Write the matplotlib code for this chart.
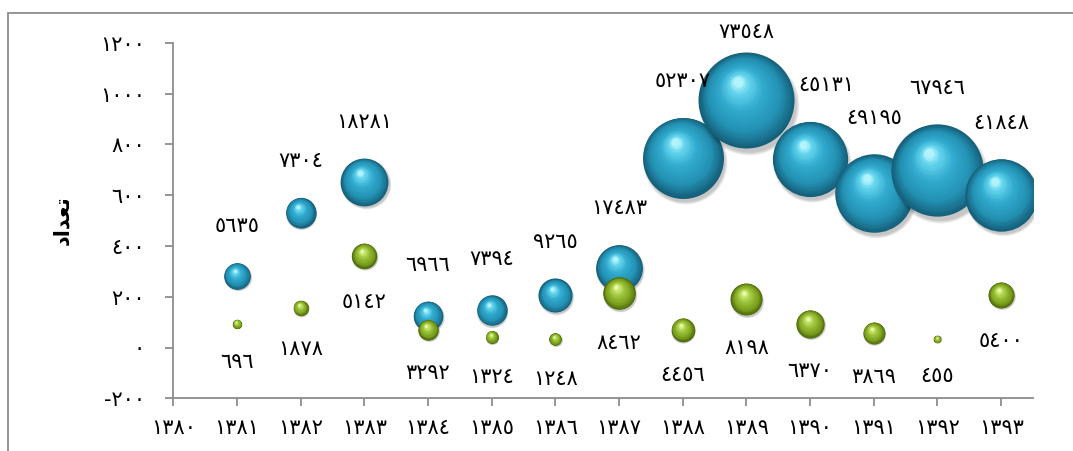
import numpy as np
import matplotlib
matplotlib.use("Agg")
import matplotlib.pyplot as plt
from matplotlib import transforms
from matplotlib.colors import LinearSegmentedColormap
from matplotlib.patches import Rectangle

# data
years = [1381, 1382, 1383, 1384, 1385, 1386, 1387, 1388, 1389, 1390, 1391, 1392, 1393]
blue_y = [282, 531, 652, 125, 146, 205, 313, 748, 975, 743, 608, 697, 601]
blue_size = [5635, 7304, 18281, 6966, 7394, 9265, 17483, 52307, 73548, 45131, 49195, 67946, 41848]
green_y = [93, 156, 361, 70, 41, 33, 214, 70, 191, 93, 57, 33, 207]
green_size = [696, 1878, 5142, 3292, 1324, 1248, 8462, 4456, 8198, 6370, 3869, 455, 5400]
x_ticks = list(range(1380, 1394))
y_ticks = list(range(-200, 1201, 200))
y_title = "\uFEA9\uFE8D\uFEAA\uFECC\uFE97"  # تعداد (shaped, visual order)

ar = str.maketrans("0123456789", "٠١٢٣٤٥٦٧٨٩")
def fa(n):
    return str(n).translate(ar)

W, H, DPI = 1073, 451, 100
fig = plt.figure(figsize=(W / DPI, H / DPI), dpi=DPI)
fig.patch.set_facecolor("white")
ax = fig.add_axes([173.3 / W, 1 - 398.3 / H, (1033 - 173.3) / W, (398.3 - 42.7) / H])
ax.set_xlim(1380, 1393.5)
ax.set_ylim(-200, 1200)

# chart border (runs off the right and bottom edges)
fig.patches.append(Rectangle((8 / W, -0.2), 1.2, 0.2 + 1 - 13 / H, transform=fig.transFigure,
                             fill=False, ec="#8c8c8c", lw=1.3))

blue_cm = LinearSegmentedColormap.from_list("b", [(0, "#15607a"), (0.25, "#2390b2"), (0.6, "#31abcf"),
                                                  (0.88, "#66d6ef"), (1, "#b2f3fc")])
green_cm = LinearSegmentedColormap.from_list("g", [(0, "#4d6a0c"), (0.25, "#7c9f1e"), (0.6, "#9ac238"),
                                                   (0.88, "#c6e56c"), (1, "#eaf9b2")])

max_d_pt = 96 * 72 / DPI
max_v = max(blue_size)

def radius(v):
    return max_d_pt * np.sqrt(v / max_v) / 2

def sphere(x, y, r, cm, z):
    # soft shadow
    for k in range(4):
        tr = transforms.offset_copy(ax.transData, fig=fig, x=0.05 * r, y=-0.1 * r, units="points")
        ax.scatter([x], [y], s=(2 * r * (1.04 - 0.02 * k)) ** 2, color="k", alpha=0.06, lw=0,
                   zorder=z, transform=tr)
    n = 30
    for i in range(n):
        t = i / (n - 1)
        rr = r * (1 - 0.9 * t)
        tr = transforms.offset_copy(ax.transData, fig=fig, x=-(r - rr) * 0.2, y=(r - rr) * 0.42,
                                    units="points")
        ax.scatter([x], [y], s=(2 * rr) ** 2, color=cm(t), lw=0, zorder=z + 0.001 * i, transform=tr)

fig.canvas.draw()
top_cap = H - 32
lab_fs = 15

nudge = {1390: 12}
z = 2
for x, y, v in zip(years, blue_y, blue_size):
    r = radius(v)
    sphere(x, y, r, blue_cm, z)
    z += 0.1
    dy = r + 26
    py = ax.transData.transform((x, y))[1]
    dy = min(dy, (top_cap - py) * 72 / DPI)
    ax.annotate(fa(v), (x, y), xytext=(nudge.get(x, 0), dy), textcoords="offset points",
                ha="center", va="center", fontsize=lab_fs, zorder=10, annotation_clip=False)

for x, y, v in zip(years, green_y, green_size):
    r = radius(v)
    sphere(x, y, r, green_cm, z)
    z += 0.1
    ax.annotate(fa(v), (x, y), xytext=(0, -(r + 24)), textcoords="offset points",
                ha="center", va="center", fontsize=lab_fs, zorder=10, annotation_clip=False)

for s in ["top", "right"]:
    ax.spines[s].set_visible(False)
for s in ["left", "bottom"]:
    ax.spines[s].set_color("#8c8c8c")
    ax.spines[s].set_linewidth(1.3)
    ax.spines[s].set_zorder(1)

ax.set_xticks(x_ticks)
ax.set_xticklabels([fa(t) for t in x_ticks])
ax.set_yticks(y_ticks)
ax.set_yticklabels([("-" + fa(-t)) if t < 0 else fa(t) for t in y_ticks])
ax.tick_params(axis="x", direction="out", length=5.5, width=1.3, color="#8c8c8c", pad=9, labelsize=15)
ax.tick_params(axis="y", direction="out", length=5.5, width=1.3, color="#8c8c8c", pad=15, labelsize=15)

fig.text(62 / W, 1 - 220 / H, y_title, rotation=90, ha="center", va="center",
         fontsize=15, fontweight="bold")

fig.savefig("out.png", dpi=DPI, facecolor="white")
